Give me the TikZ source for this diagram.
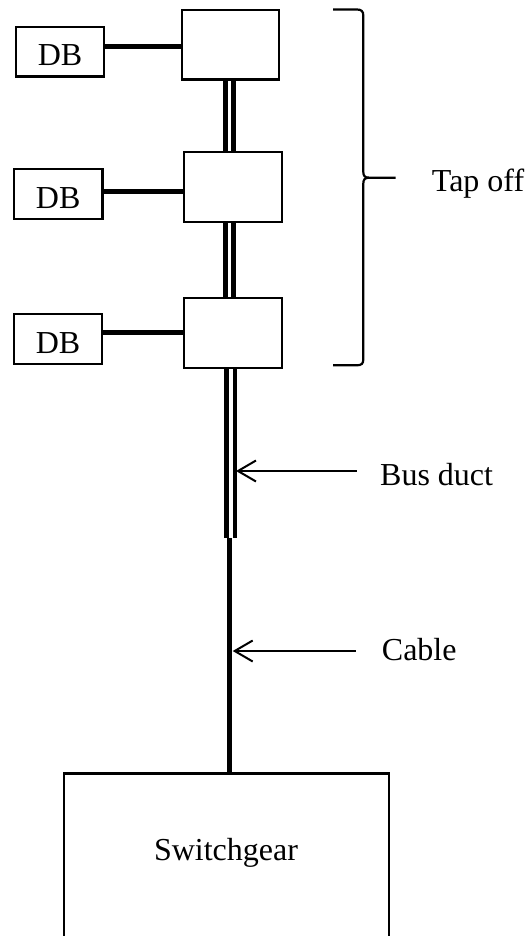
\documentclass[tikz,border=0pt]{standalone}
\usepackage{fontspec}
\setmainfont{Liberation Serif}
\usetikzlibrary{arrows.meta}
\tikzset{
  lbl/.style={font=\fontsize{32}{38}\selectfont, inner sep=0pt},
  box/.style={draw, line width=2.3pt, fill=white, inner sep=0pt},
  tapbox/.style={box, minimum width=97pt, minimum height=69.5pt},
  dbbox/.style={box, minimum width=88.6pt, minimum height=49.8pt,
    font=\fontsize{32}{38}\selectfont, text height=28.5pt, text depth=0pt},
  feeder/.style={line width=5pt},
  busline/.style={line width=4.6pt},
  cableline/.style={line width=5.2pt},
  pointer/.style={line width=2pt, -{Straight Barb[length=18pt, width=21pt, line width=2pt]}},
  bracestyle/.style={line width=2.2pt}
}
\begin{document}
\begin{tikzpicture}[x=1pt, y=-1pt]
\useasboundingbox (0,0) rectangle (529,936);
\clip (0,0) rectangle (529,936);

% tap-off boxes
\node[tapbox] (t1) at (230.25,44.8) {};
\node[tapbox, minimum width=97.5pt] (t2) at (233,187) {};
\node[tapbox, minimum width=97.5pt] (t3) at (233,333) {};

% distribution boards
\node[dbbox] (d1) at (60,51.6) {DB};
\node[dbbox] (d2) at (58.2,193.9) {DB};
\node[dbbox] (d3) at (58,339.2) {DB};

% switchgear (extends past the lower edge)
\node[box, minimum width=325pt, minimum height=188pt] (sg) at (226.2,867.5) {};
\node[lbl, anchor=base] (sgl) at (226,860) {Switchgear};

% reference coordinates
\coordinate (ya) at (0,47);
\coordinate (yb) at (0,191.7);
\coordinate (yc) at (0,332.3);
\coordinate (xl) at (225.3,0);
\coordinate (xr) at (233.5,0);
\coordinate (xbl) at (226.5,0);
\coordinate (xbr) at (235,0);
\coordinate (xc) at (229.3,0);
\coordinate (bdend) at (0,538.3);

% feeders DB -> tap-off
\draw[feeder] (d1.east |- ya) -- (t1.west |- ya);
\draw[feeder] (d2.east |- yb) -- (t2.west |- yb);
\draw[feeder] (d3.east |- yc) -- (t3.west |- yc);

% bus duct between tap-offs
\draw[busline] (xl |- t1.south) -- (xl |- t2.north);
\draw[busline] (xr |- t1.south) -- (xr |- t2.north);
\draw[busline] (xl |- t2.south) -- (xl |- t3.north);
\draw[busline] (xr |- t2.south) -- (xr |- t3.north);

% bus duct below the last tap-off
\draw[busline] (xbl |- t3.south) -- (xbl |- bdend);
\draw[busline] (xbr |- t3.south) -- (xbr |- bdend);

% cable
\draw[cableline] (xc |- bdend) -- (xc |- sg.north);

% pointers and labels
\coordinate (bdtail) at (356.7,471);
\coordinate (bdtip) at (236,471);
\draw[pointer] (bdtail) -- (bdtip);
\node[lbl, anchor=base west] (bdl) at (380,485) {Bus duct};

\coordinate (cbtail) at (355.5,651);
\coordinate (cbtip) at (232.7,651);
\draw[pointer] (cbtail) -- (cbtip);
\node[lbl, anchor=base west] (cbl) at (381.7,660.7) {Cable};

% brace for tap-offs
\draw[bracestyle] (333,9.5) -- (357,9.5) .. controls (361.5,9.5) and (363.3,11.5) .. (363.3,15.5)
  -- (363.3,172) .. controls (363.3,176) and (365,177.7) .. (369,177.7) -- (395.7,177.7);
\draw[bracestyle] (369,177.7) .. controls (365,177.7) and (363.3,179.5) .. (363.3,183.5)
  -- (363.3,359.5) .. controls (363.3,363.5) and (361.5,365.3) .. (357,365.3) -- (333,365.3);
\node[lbl, anchor=base west] (tol) at (431.7,191.7) {Tap off};
\end{tikzpicture}
\end{document}
